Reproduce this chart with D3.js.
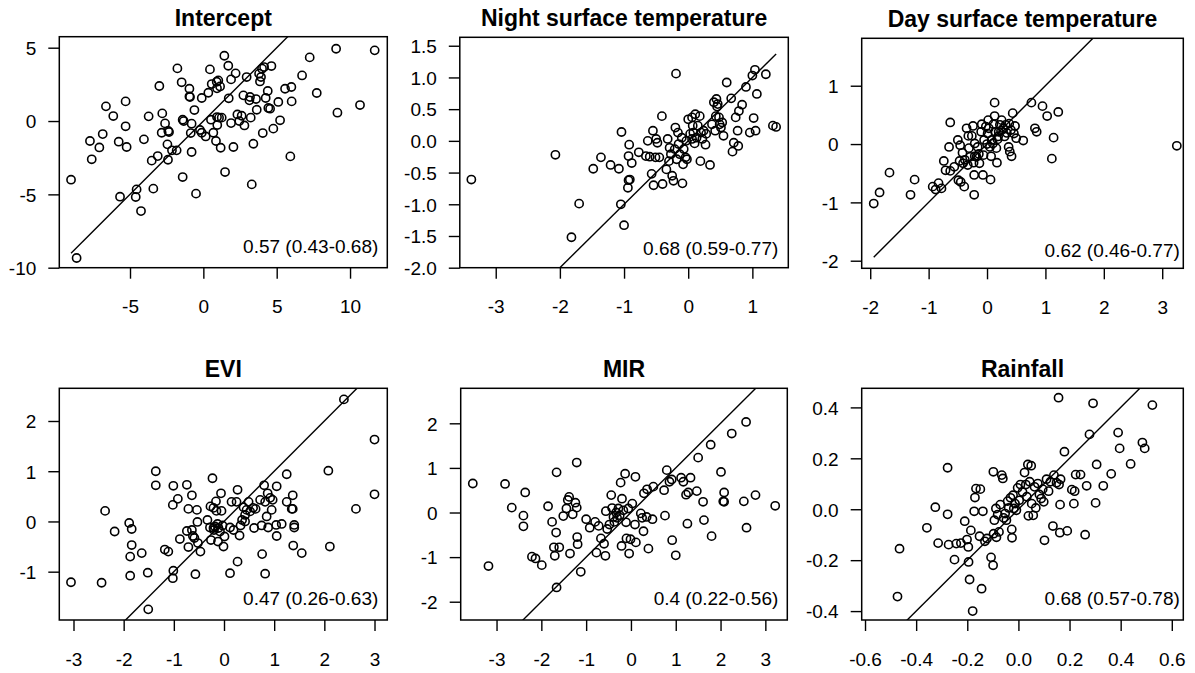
<!DOCTYPE html>
<html>
<head>
<meta charset="utf-8">
<script src="https://cdn.jsdelivr.net/npm/d3@7"></script>
<style>
  body { margin: 0; background: #fff; }
  svg { display: block; font-family: 'Liberation Sans', Arial, Helvetica, sans-serif; }
</style>
</head>
<body>
<svg id="chart" width="1195" height="673"></svg>
<script>
const titles = ['Intercept', 'Night surface temperature', 'Day surface temperature', 'EVI', 'MIR', 'Rainfall']
const annotations = ['0.57 (0.43-0.68)', '0.68 (0.59-0.77)', '0.62 (0.46-0.77)', '0.47 (0.26-0.63)', '0.4 (0.22-0.56)', '0.68 (0.57-0.78)']

const interceptPts = [
  [-9.02, -4.0], [-8.64, -9.34], [-7.73, -1.36], [-7.61, -2.61], [-7.09, -1.8], [-6.86, -0.89], [-6.64, 1.0],
  [-6.14, 0.34], [-5.77, -1.41], [-5.68, -5.16], [-5.3, 1.34], [-5.3, -0.36], [-5.23, -1.77], [-4.55, -4.66],
  [-4.61, -5.18], [-4.25, -6.14], [-4.05, -1.25], [-3.73, 0.32], [-3.52, -2.7], [-3.41, -4.61], [-3.11, -2.39],
  [-3.0, 2.39], [-2.8, 0.52], [-2.84, -0.8], [-2.61, -0.16], [-2.45, -1.59], [-2.39, -0.68], [-2.34, -0.75],
  [-2.41, -2.64], [-2.14, -2.0], [-1.82, -2.0], [-1.77, 3.59], [-1.48, 2.64], [-1.41, -3.82], [-1.41, 0.09],
  [-1.34, 0.0], [-0.95, 2.2], [-0.95, 1.68], [-0.91, 1.64], [-0.86, -0.82], [-0.8, -2.11], [-0.8, -0.18],
  [-0.61, 0.75], [-0.5, -4.95], [-0.23, -0.61], [-0.11, 1.57], [-0.11, -0.8], [0.16, -1.05], [0.34, 1.93],
  [0.45, 3.52], [0.52, 0.09], [0.57, 2.52], [0.68, -0.8], [0.86, -1.36], [0.91, 2.68], [0.93, 2.23], [0.93, 0.27],
  [0.95, -0.27], [1.02, 2.77], [1.07, 0.23], [1.14, 2.36], [1.18, -1.82], [1.25, 0.23], [1.43, 4.45], [1.48, -3.48],
  [1.7, 3.77], [1.73, 1.55], [1.89, 2.84], [1.89, -0.14], [2.05, -1.77], [2.2, 3.25], [2.32, 0.45], [2.45, 0.0],
  [2.61, 0.36], [2.73, 1.75], [2.8, -0.3], [2.95, 3.0], [3.14, 1.41], [3.18, 1.64], [3.23, 0.23], [3.3, -4.32],
  [3.41, -1.55], [3.59, 1.5], [3.64, 0.77], [3.8, 3.23], [3.86, 2.7], [3.93, 3.0], [4.0, 3.57], [4.05, -0.82],
  [4.14, 3.68], [4.25, 1.57], [4.39, 2.05], [4.43, 0.89], [4.55, 0.84], [4.64, 3.75], [4.77, -0.52], [5.11, 1.3],
  [5.23, 0.05], [5.57, 2.2], [5.93, -2.41], [6.0, 2.32], [6.02, 1.34], [6.73, 3.11], [7.25, 4.34], [7.73, 1.91],
  [9.05, 4.93], [9.14, 0.57], [10.68, 1.09], [11.68, 4.82]
]

const nightPts = [
  [-3.38, -0.61], [-2.07, -0.22], [-1.82, -1.52], [-1.7, -0.99], [-1.48, -0.44], [-1.36, -0.26], [-1.21, -0.38],
  [-1.08, -0.44], [-1.04, 0.14], [-1.05, -1.0], [-1.0, -1.33], [-0.93, -0.62], [-0.92, -0.06], [-0.93, -0.24],
  [-0.91, -0.61], [-0.94, -0.74], [-0.88, -0.35], [-0.77, -0.18], [-0.66, -0.24], [-0.63, 0.0], [-0.6, -0.25],
  [-0.57, -0.52], [-0.55, 0.16], [-0.54, -0.7], [-0.51, -0.26], [-0.5, 0.03], [-0.48, -0.03], [-0.45, -0.26],
  [-0.41, 0.39], [-0.4, -0.68], [-0.34, -0.45], [-0.32, 0.03], [-0.3, -0.32], [-0.27, -0.21], [-0.25, -0.55],
  [-0.23, -0.63], [-0.21, -0.13], [-0.2, 0.21], [-0.19, 1.06], [-0.18, -0.29], [-0.16, 0.13], [-0.15, -0.05],
  [-0.13, -0.21], [-0.1, 0.05], [-0.09, -0.67], [-0.08, -0.37], [-0.07, -0.13], [-0.04, -0.26], [-0.02, -0.29],
  [0.0, 0.34], [0.03, 0.11], [0.06, 0.37], [0.07, 0.24], [0.08, 0.13], [0.1, -0.04], [0.11, 0.42], [0.13, 0.05],
  [0.15, 0.24], [0.18, 0.39], [0.19, -0.32], [0.2, 0.13], [0.22, 0.03], [0.24, 0.16], [0.27, -0.06], [0.28, 0.11],
  [0.34, -0.38], [0.37, 0.26], [0.4, 0.61], [0.42, 0.16], [0.43, 0.39], [0.44, 0.66], [0.45, 0.54], [0.46, 0.58],
  [0.48, 0.37], [0.49, 0.26], [0.51, 0.21], [0.53, 0.29], [0.55, 0.08], [0.6, 0.92], [0.67, 0.67], [0.69, -0.17],
  [0.71, -0.03], [0.74, 0.37], [0.77, 0.16], [0.78, -0.08], [0.79, 0.47], [0.84, 0.57], [0.9, 0.85], [0.96, 0.13],
  [1.0, 1.03], [1.02, 0.36], [1.04, 1.12], [1.05, 0.16], [1.07, 0.74], [1.21, 1.05], [1.32, 0.24], [1.37, 0.22],
  [0.06, 0.03], [-0.29, -0.11], [-0.03, 0.0]
]

const dayPts = [
  [-1.94, -1.02], [-1.84, -0.83], [-1.67, -0.49], [-1.31, -0.87], [-1.24, -0.61], [-0.93, -0.73], [-0.88, -0.78],
  [-0.83, -0.67], [-0.78, -0.76], [-0.74, -0.29], [-0.71, -0.45], [-0.65, -0.05], [-0.63, 0.37], [-0.63, -0.46],
  [-0.56, -0.39], [-0.5, 0.07], [-0.49, -0.62], [-0.47, -0.29], [-0.46, -0.02], [-0.45, -0.65], [-0.42, -0.15],
  [-0.41, -0.33], [-0.39, -0.73], [-0.38, -0.27], [-0.35, 0.27], [-0.33, -0.36], [-0.31, -0.07], [-0.29, -0.22],
  [-0.26, 0.14], [-0.24, 0.31], [-0.23, -0.32], [-0.22, -0.87], [-0.22, -0.53], [-0.21, 0.01], [-0.18, -0.22],
  [-0.16, -0.05], [-0.14, -0.17], [-0.13, -0.33], [-0.1, 0.21], [-0.09, 0.34], [-0.07, -0.53], [-0.06, -0.19],
  [-0.05, 0.07], [-0.02, 0.3], [0.0, 0.0], [0.01, 0.18], [0.02, 0.41], [0.05, -0.05], [0.06, -0.61], [0.07, -0.21],
  [0.08, 0.07], [0.1, 0.01], [0.13, 0.71], [0.13, 0.48], [0.14, 0.21], [0.16, -0.07], [0.17, -0.32], [0.19, 0.13],
  [0.22, 0.33], [0.24, 0.23], [0.25, 0.41], [0.28, 0.27], [0.3, 0.13], [0.32, 0.33], [0.34, 0.19], [0.37, -0.05],
  [0.38, 0.35], [0.39, -0.13], [0.41, 0.24], [0.42, -0.21], [0.44, 0.53], [0.46, 0.18], [0.48, 0.31], [0.5, 0.1],
  [0.62, 0.06], [0.76, 0.71], [0.82, 0.27], [0.85, 0.21], [0.95, 0.65], [1.03, 0.48], [1.11, -0.25], [1.14, 0.11],
  [1.22, 0.55], [3.25, -0.03], [0.18, 0.08], [0.03, 0.27], [-0.32, 0.14], [0.11, 0.34], [0.2, 0.21], [-0.21, -0.21]
]

const eviPts = [
  [-3.05, -1.21], [-2.44, -1.22], [-2.37, 0.21], [-2.18, -0.2], [-1.89, -0.03], [-1.84, -0.15], [-1.84, -0.47],
  [-1.87, -0.7], [-1.87, -1.08], [-1.64, -0.63], [-1.52, -1.02], [-1.51, -1.75], [-1.36, 1.0], [-1.36, 0.72],
  [-1.18, -0.56], [-1.11, -0.6], [-1.02, 0.33], [-1.01, 0.71], [-1.01, -0.98], [-1.02, -1.13], [-0.92, 0.45],
  [-0.88, -0.35], [-0.74, 0.73], [-0.74, -0.19], [-0.71, 0.25], [-0.71, -0.51], [-0.64, 0.52], [-0.64, -0.17],
  [-0.62, -0.29], [-0.59, -0.33], [-0.57, -1.05], [-0.54, 0.23], [-0.53, -0.01], [-0.52, -0.43], [-0.47, -0.6],
  [-0.33, 0.03], [-0.28, -0.12], [-0.27, 0.3], [-0.26, -0.37], [-0.23, 0.86], [-0.21, 0.27], [-0.2, -0.17],
  [-0.18, -0.1], [-0.16, 0.4], [-0.15, 0.21], [-0.13, -0.05], [-0.12, -0.4], [-0.11, -0.13], [-0.08, -0.2],
  [-0.06, 0.56], [-0.05, 0.21], [-0.03, -0.08], [-0.01, -0.5], [0.01, -0.3], [0.12, -0.12], [0.12, -1.03],
  [0.15, 0.39], [0.19, -0.17], [0.25, 0.39], [0.27, 0.63], [0.27, -0.8], [0.31, -0.28], [0.33, -0.08], [0.36, 0.03],
  [0.39, 0.28], [0.42, 0.13], [0.45, 0.23], [0.49, 0.39], [0.52, 0.2], [0.58, 0.27], [0.6, -0.13], [0.63, 0.25],
  [0.72, 0.43], [0.75, -0.08], [0.76, -0.65], [0.8, 0.72], [0.82, 0.39], [0.82, -1.04], [0.85, 0.1], [0.87, 0.56],
  [0.88, -0.12], [0.92, 0.47], [0.95, 0.23], [0.97, 0.43], [1.04, -0.07], [1.05, 0.7], [1.05, -0.29], [1.15, -0.05],
  [1.25, 0.94], [1.25, 0.39], [1.35, 0.25], [1.37, 0.52], [1.37, 0.25], [1.38, -0.48], [1.4, -0.12], [1.4, -0.07],
  [1.55, -0.63], [2.08, 1.01], [2.11, -0.5], [2.39, 2.43], [2.63, 0.25], [3.0, 1.63], [3.0, 0.54], [-0.21, -0.13],
  [0.42, 0.0]
]

const mirPts = [
  [-3.53, 0.65], [-3.18, -1.2], [-2.81, 0.64], [-2.66, 0.11], [-2.4, -0.07], [-2.4, -0.31], [-2.36, 0.45],
  [-2.21, -0.99], [-2.13, -1.03], [-1.99, -1.18], [-1.85, 0.14], [-1.76, -0.21], [-1.72, -0.78], [-1.7, -0.97],
  [-1.67, -0.45], [-1.66, 0.9], [-1.66, -1.68], [-1.6, -0.78], [-1.51, -0.08], [-1.44, 0.09], [-1.41, 0.28],
  [-1.38, 0.35], [-1.36, -0.92], [-1.3, -0.04], [-1.24, 0.22], [-1.21, 1.12], [-1.21, 0.11], [-1.2, -0.55],
  [-1.19, -0.71], [-1.12, -1.33], [-1.0, -0.15], [-0.92, -0.34], [-0.8, -0.21], [-0.77, -0.9], [-0.72, -0.3],
  [-0.67, -0.58], [-0.6, -0.7], [-0.57, -0.97], [-0.56, 0.03], [-0.53, -0.37], [-0.48, -0.27], [-0.44, 0.39],
  [-0.42, 0.1], [-0.39, -0.1], [-0.37, -0.21], [-0.33, 0.0], [-0.31, -0.12], [-0.28, 0.09], [-0.25, -0.06],
  [-0.23, 0.67], [-0.21, -0.75], [-0.2, 0.31], [-0.17, 0.05], [-0.13, 0.87], [-0.11, -0.22], [-0.1, -0.58],
  [-0.06, 0.09], [-0.04, -0.92], [-0.01, -0.6], [0.03, 0.2], [0.09, -0.27], [0.1, 0.8], [0.11, -0.67], [0.22, -0.02],
  [0.25, -0.12], [0.28, -0.42], [0.29, 0.43], [0.35, -0.1], [0.36, 0.52], [0.39, -0.81], [0.48, -0.15], [0.5, 0.58],
  [0.74, 0.5], [0.76, -0.07], [0.8, 0.95], [0.86, 0.69], [0.91, 0.74], [0.92, -0.62], [1.0, -0.96], [1.12, 0.78],
  [1.17, 0.69], [1.23, 0.4], [1.26, -0.25], [1.28, 0.45], [1.33, 0.78], [1.47, 0.48], [1.5, 1.23], [1.61, 0.24],
  [1.63, -0.17], [1.78, 1.52], [1.8, -0.53], [2.01, 0.91], [2.06, 0.25], [2.08, 0.45], [2.08, 0.24], [2.25, 1.77],
  [2.52, 0.25], [2.57, 2.03], [2.58, -0.34], [2.78, 0.39], [3.22, 0.15]
]

const rainPts = [
  [-0.473, -0.343], [-0.465, -0.155], [-0.358, -0.073], [-0.325, 0.008], [-0.314, -0.133], [-0.277, 0.163],
  [-0.277, -0.02], [-0.273, -0.139], [-0.25, -0.198], [-0.243, -0.135], [-0.225, -0.133], [-0.21, -0.047],
  [-0.201, -0.119], [-0.196, -0.148], [-0.195, -0.207], [-0.191, -0.276], [-0.186, -0.083], [-0.179, -0.4],
  [-0.173, -0.008], [-0.17, 0.046], [-0.166, 0.081], [-0.149, 0.079], [-0.152, -0.106], [-0.144, -0.312],
  [-0.139, -0.008], [-0.131, -0.126], [-0.123, -0.115], [-0.107, -0.189], [-0.099, -0.22], [-0.098, 0.147],
  [-0.097, -0.096], [-0.094, -0.043], [-0.088, 0.003], [-0.086, -0.11], [-0.081, -0.021], [-0.076, -0.089],
  [-0.071, 0.018], [-0.065, 0.134], [-0.061, 0.121], [-0.058, -0.034], [-0.052, -0.017], [-0.047, -0.043],
  [-0.042, 0.032], [-0.038, 0.005], [-0.031, 0.045], [-0.026, -0.079], [-0.025, -0.112], [-0.021, 0.055],
  [-0.018, 0.003], [-0.013, 0.022], [-0.008, -0.004], [-0.003, 0.084], [0.003, 0.035], [0.008, 0.097],
  [0.016, 0.068], [0.024, 0.144], [0.029, 0.097], [0.033, 0.049], [0.037, 0.176], [0.039, -0.026], [0.044, 0.108],
  [0.05, 0.171], [0.052, 0.022], [0.058, -0.024], [0.063, 0.088], [0.068, 0.005], [0.076, 0.101], [0.082, 0.058],
  [0.089, 0.042], [0.095, 0.079], [0.099, 0.029], [0.102, -0.122], [0.11, 0.118], [0.118, 0.071], [0.125, 0.108],
  [0.135, -0.066], [0.139, 0.134], [0.149, 0.104], [0.157, 0.438], [0.159, 0.097], [0.162, -0.092], [0.163, 0.018],
  [0.165, 0.118], [0.18, 0.226], [0.191, -0.085], [0.209, 0.077], [0.217, 0.022], [0.22, 0.071], [0.224, 0.136],
  [0.243, 0.136], [0.261, -0.1], [0.267, 0.092], [0.278, 0.294], [0.292, 0.416], [0.302, 0.025], [0.306, 0.176],
  [0.332, 0.092], [0.363, 0.139], [0.39, 0.301], [0.396, 0.239], [0.439, 0.178], [0.485, 0.262], [0.494, 0.239],
  [0.524, 0.409]
]

const allPts = [interceptPts, nightPts, dayPts, eviPts, mirPts, rainPts]

// tick values per panel
const xTicks = [
  [-5, 0, 5, 10], [-3, -2, -1, 0, 1], [-2, -1, 0, 1, 2, 3],
  [-3, -2, -1, 0, 1, 2, 3], [-3, -2, -1, 0, 1, 2, 3], [-0.6, -0.4, -0.2, 0, 0.2, 0.4, 0.6]
]
const yTicks = [
  [-10, -5, 0, 5], [-2, -1.5, -1, -0.5, 0, 0.5, 1, 1.5], [-2, -1, 0, 1],
  [-1, 0, 1, 2], [-2, -1, 0, 1, 2], [-0.4, -0.2, 0, 0.2, 0.4]
]
const xFormats = ['d', 'd', 'd', 'd', 'd', '.1f']
const yFormats = ['d', '.1f', 'd', 'd', 'd', '.1f']

// layout: plot box in px and axis limits (R style padded ranges)
const layout = [
  { x0: 59.3, x1: 387.3, y0: 36.7, y1: 267.7, xd: [-9.82, 12.54], yd: [-10, 5.75], adx: 9, ady: 14.5 },
  { x0: 459.8, x1: 788.3, y0: 37.3, y1: 267.7, xd: [-3.56, 1.56], yd: [-2, 1.633], adx: 10, ady: 13 },
  { x0: 861.7, x1: 1183.3, y0: 38.3, y1: 268.3, xd: [-2.146, 3.361], yd: [-2.13, 1.813], adx: 3.5, ady: 11.5 },
  { x0: 59.3, x1: 387.3, y0: 388.3, y1: 620, xd: [-3.283, 3.255], yd: [-1.962, 2.651], adx: 9, ady: 15.5 },
  { x0: 460.7, x1: 787.3, y0: 388.3, y1: 620, xd: [-3.8, 3.49], yd: [-2.41, 2.785], adx: 9, ady: 15 },
  { x0: 861.7, x1: 1183.3, y0: 388.3, y1: 620, xd: [-0.613, 0.645], yd: [-0.435, 0.475], adx: 3.5, ady: 15.5 }
]

const tickLen = 11
const labelSize = 19
const titleSize = 23
const fontStack = "'Liberation Sans', Arial, sans-serif"

// R prints a plain hyphen for negatives
const locale = d3.formatLocale({ decimal: '.', thousands: ',', grouping: [3], currency: ['', ''], minus: '-' })

const svg = d3.select('#chart')
svg.append('rect').attr('width', 1195).attr('height', 673).attr('fill', '#fff')

function drawPanel (i) {
  const L = layout[i]
  const pts = allPts[i]
  const x = d3.scaleLinear().domain(L.xd).range([L.x0, L.x1])
  const y = d3.scaleLinear().domain(L.yd).range([L.y1, L.y0])
  const g = svg.append('g')

  // clip for the 1:1 line
  const clipId = 'clip' + i
  svg.append('clipPath').attr('id', clipId)
    .append('rect')
    .attr('x', L.x0).attr('y', L.y0)
    .attr('width', L.x1 - L.x0).attr('height', L.y1 - L.y0)

  // bottom axis
  const xAxis = d3.axisBottom(x).tickValues(xTicks[i]).tickSize(tickLen).tickSizeOuter(0)
    .tickFormat(locale.format(xFormats[i]))
  const gx = g.append('g').attr('transform', `translate(0,${L.y1})`).call(xAxis)
  gx.select('.domain').remove()
  gx.selectAll('line').attr('stroke', '#000').attr('stroke-width', 1.4)
  gx.selectAll('text')
    .attr('y', 45.5).attr('dy', null)
    .attr('font-size', labelSize).attr('fill', '#000')
    .style('font-family', fontStack)

  // left axis
  const yAxis = d3.axisLeft(y).tickValues(yTicks[i]).tickSize(tickLen).tickSizeOuter(0)
    .tickFormat(locale.format(yFormats[i]))
  const gy = g.append('g').attr('transform', `translate(${L.x0},0)`).call(yAxis)
  gy.select('.domain').remove()
  gy.selectAll('line').attr('stroke', '#000').attr('stroke-width', 1.4)
  gy.selectAll('text')
    .attr('x', -23).attr('dy', null).attr('y', 6.8)
    .attr('font-size', labelSize).attr('fill', '#000')
    .style('font-family', fontStack)

  // 1:1 line over the range of the predictions
  const ext = d3.extent(pts, d => d[0])
  g.append('line')
    .attr('clip-path', `url(#${clipId})`)
    .attr('x1', x(ext[0])).attr('y1', y(ext[0]))
    .attr('x2', x(ext[1])).attr('y2', y(ext[1]))
    .attr('stroke', '#000').attr('stroke-width', 1.4)

  // points
  g.append('g')
    .selectAll('circle')
    .data(pts)
    .enter()
    .append('circle')
    .attr('cx', d => x(d[0]))
    .attr('cy', d => y(d[1]))
    .attr('r', 4.1)
    .attr('fill', 'none')
    .attr('stroke', '#000')
    .attr('stroke-width', 1.6)

  // box
  g.append('rect')
    .attr('x', L.x0).attr('y', L.y0)
    .attr('width', L.x1 - L.x0).attr('height', L.y1 - L.y0)
    .attr('fill', 'none').attr('stroke', '#000').attr('stroke-width', 1.5)

  // title
  g.append('text')
    .attr('x', (L.x0 + L.x1) / 2)
    .attr('y', L.y0 - 11)
    .attr('text-anchor', 'middle')
    .attr('font-size', titleSize)
    .attr('font-weight', 'bold')
    .text(titles[i])

  // correlation annotation
  g.append('text')
    .attr('x', L.x1 - L.adx)
    .attr('y', L.y1 - L.ady)
    .attr('text-anchor', 'end')
    .attr('font-size', labelSize)
    .text(annotations[i])
}

for (let i = 0; i < titles.length; i++) {
  drawPanel(i)
}
</script>
</body>
</html>
